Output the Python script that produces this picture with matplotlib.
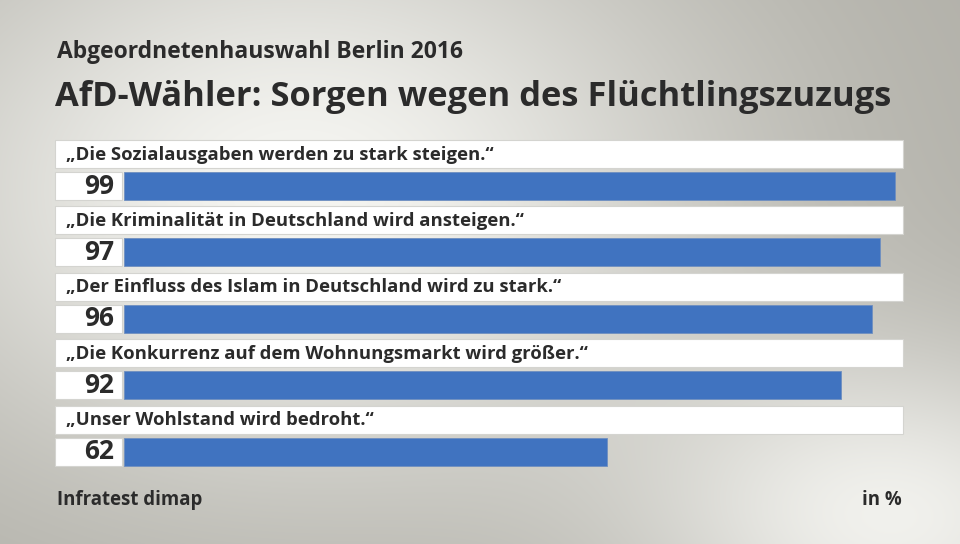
import numpy as np
import matplotlib.pyplot as plt
from matplotlib.patches import Rectangle

# data
statements = ["„Die Sozialausgaben werden zu stark steigen.“",
              "„Die Kriminalität in Deutschland wird ansteigen.“",
              "„Der Einfluss des Islam in Deutschland wird zu stark.“",
              "„Die Konkurrenz auf dem Wohnungsmarkt wird größer.“",
              "„Unser Wohlstand wird bedroht.“"]
values = [99, 97, 96, 92, 62]
subtitle = "Abgeordnetenhauswahl Berlin 2016"
title = "AfD-Wähler: Sorgen wegen des Flüchtlingszuzugs"
source = "Infratest dimap"
unit = "in %"

W, H = 960, 544
px = 7.79          # pixels per percent
x0 = 124           # pixel where bars start
blue = "#4073c0"
txt = "#2b2b2b"
font = "Open Sans"

fig = plt.figure(figsize=(W / 100, H / 100), dpi=100)
ax = fig.add_axes([0, 0, 1, 1])
xl, xr = -x0 / px, (W - x0) / px
ax.set_xlim(xl, xr)
ax.set_ylim(H, 0)
ax.axis("off")

# background gradient
yy, xx = np.mgrid[0:H, 0:W]
g1 = np.exp(-(((xx - 300) / 420) ** 2 + ((yy - 190) / 300) ** 2))
g2 = np.exp(-(((xx - 900) / 260) ** 2 + ((yy - 520) / 170) ** 2))
light = np.clip(g1 + 0.9 * g2, 0, 1)
dark = np.array([0.69, 0.685, 0.655])
lite = np.array([0.96, 0.96, 0.945])
bg = dark + (lite - dark) * light[..., None]
ax.imshow(bg, extent=[xl, xr, H, 0], aspect="auto", zorder=0)

step = 66.4
for i, (s, v) in enumerate(zip(statements, values)):
    top = 140 + step * i
    # label box
    ax.add_patch(Rectangle((-69 / px, top), 848 / px, 28, facecolor="white",
                           edgecolor="#d4d4d0", lw=0.8, zorder=2))
    ax.text(-58 / px, top + 14.5, s, fontsize=13.3, fontweight="bold", family=font,
            color=txt, va="center", ha="left", zorder=3)
    # value box
    ax.add_patch(Rectangle((-69 / px, top + 32), 67 / px, 28, facecolor="white",
                           edgecolor="#d4d4d0", lw=0.8, zorder=2))
    ax.text(-10 / px, top + 46, str(v), fontsize=19, fontweight="bold", family=font,
            color=txt, va="center", ha="right", zorder=3)

tops = [140 + step * i + 32 for i in range(len(values))]
ax.barh([t + 14 for t in tops], values, height=28, left=0, color=blue,
        edgecolor="#6f8fc0", lw=0.6, zorder=2)

fig.text(57 / W, 1 - 58 / H, subtitle, fontsize=16.5, fontweight="bold", family=font,
         color=txt, va="baseline")
fig.text(55 / W, 1 - 106 / H, title, fontsize=24.8, fontweight="bold", family=font,
         color=txt, va="baseline")
fig.text(57 / W, 1 - 505 / H, source, fontsize=13.4, fontweight="bold", family=font,
         color=txt, va="baseline")
fig.text(902 / W, 1 - 505 / H, unit, fontsize=13.4, fontweight="bold", family=font,
         color=txt, va="baseline", ha="right")

fig.savefig("out.png", dpi=100)
